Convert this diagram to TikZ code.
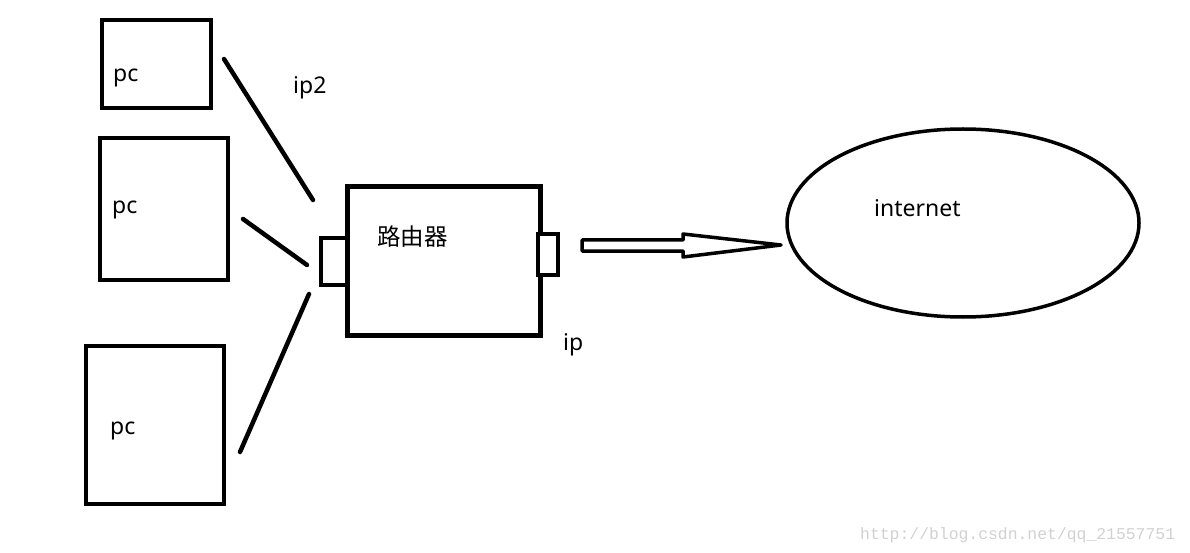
\documentclass[tikz,border=0pt]{standalone}
\usepackage{fontspec}
\setmainfont{Noto Sans}
\newfontfamily\cjk{Noto Sans CJK SC}
\newfontfamily\wmfont{Liberation Mono}
\begin{document}
\begin{tikzpicture}[x=1pt,y=-1pt,
  box/.style={draw,line width=4.5pt},
  wire/.style={line width=4.5pt,line cap=round},
  lbl/.style={inner sep=0pt,anchor=base west,font=\fontsize{23}{27}\selectfont},
]
\useasboundingbox (0,0) rectangle (1190,553);
% pcs
\draw[box] (102,20) rectangle (211,108);
\draw[box] (100,138) rectangle (228,280);
\draw[box] (86,346) rectangle (224,504);
% router
\draw[box] (347.5,186.5) rectangle (540.5,335.5);
\draw[box,fill=white] (321,238) rectangle (347.5,285);
\draw[box,fill=white] (538,234) rectangle (558,275);
% wires
\coordinate (a1) at (224,59); \coordinate (b1) at (313,200);
\coordinate (a2) at (243,219); \coordinate (b2) at (307,265);
\coordinate (a3) at (240,452); \coordinate (b3) at (309,294);
\draw[wire] (a1) -- (b1);
\draw[wire] (a2) -- (b2);
\draw[wire] (a3) -- (b3);
% arrow
\draw[line width=3.5pt,line join=round] (582,240) -- (683,240) -- (683,234) -- (781,245) -- (683,257) -- (683,251) -- (582,251) -- cycle;
% internet
\draw[line width=3.5pt] (963,223) ellipse [x radius=176, y radius=94];
% labels
\node[lbl] (pc1) at (113,82) {pc};
\node[lbl] (pc2) at (112,214) {pc};
\node[lbl] (pc3) at (110,434) {pc};
\node[lbl] (ip2) at (293,94) {ip2};
\node[lbl] (ip) at (563,350) {ip};
\node[lbl] (inet) at (874,217) {internet};
\node[lbl,font=\cjk\fontsize{23.5}{27}\selectfont] (router) at (377,246) {路由器};
\node[lbl,font=\wmfont\fontsize{16.4}{18}\selectfont,text=black!18] (wm) at (860,539) {http://blog.csdn.net/qq\_21557751};
\end{tikzpicture}
\end{document}
